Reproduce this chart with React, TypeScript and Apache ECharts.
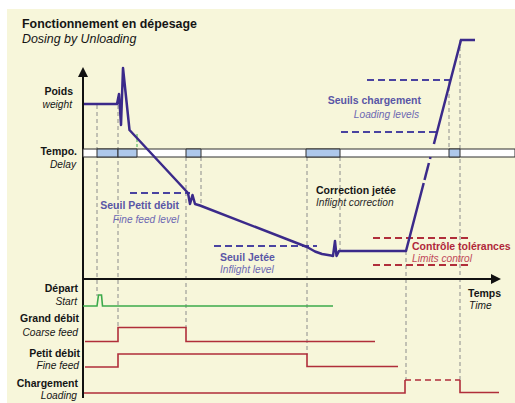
import React, { useEffect, useRef } from "react";
import * as echarts from "echarts";

// ---- chart-space data (time on x, level on y measured downward) ----
const weightCurve = [
  [84, 104], [117, 104], [119, 94], [121, 125], [123, 68], [129.5, 130],
  [188, 193], [190, 204], [192.5, 195], [195, 204], [200, 205.5],
  [307, 247], [315, 251.5], [322, 254], [331, 255.5], [333, 256],
  [335, 241], [336.5, 256], [339, 251], [406, 251], [423.7, 183],
];
const weightRiseDash1 = [[424.5, 180], [428.9, 163]];
const weightRiseDash2 = [[430, 159], [430.5, 157]];
const weightTop = [[433.9, 144], [461, 40], [475, 40]];

const tempoBand = [149, 157];
const tempoBar = [[83, 515]];
const tempoSegments = [[97, 118], [118, 137], [186, 201], [306, 340], [449, 460]];

// horizontal thresholds: [x1, x2, level]
const loadingLevels = [[367, 450, 80], [341, 436, 132]];
const fineFeedLevel = [[130, 190, 193]];
const inflightLevel = [[214, 317, 246]];
const toleranceLimits = [[373, 468, 238], [373, 468, 265]];

// vertical guides: [x, y1, y2]
const guides = [
  [97, 105, 296], [118, 105, 328], [186, 157, 328], [201, 157, 205],
  [307, 157, 355], [340, 157, 251], [406, 251, 380], [449, 80, 149], [460, 40, 380],
];
const greenGuide = [[137, 134, 149]];

const startSignal = [[83, 306], [97, 306], [98.5, 295], [101.5, 295], [102.5, 306], [333, 306]];
const coarseFeed = [[85, 341.5], [118, 341.5], [118, 327.5], [186, 327.5], [186, 341.5], [375, 341.5]];
const fineFeed = [[85, 367], [118, 367], [118, 354], [307, 354], [307, 366.5], [398, 366.5]];
const loadingLow = [[84, 393], [405, 393], [405, 380]];
const loadingHigh = [[405, 380], [460, 380]];
const loadingEnd = [[460, 380], [460, 392.5], [499, 392.5]];

const yAxisLine = [[83, 398], [83, 75]];
const timeAxisLine = [[83, 279], [492, 279]];
// arrow tips: [x, y, direction(0 up, 1 right)]
const arrowTips = [[83, 67, 0], [501, 279, 1]];

const FONT = '"Liberation Sans", Arial, sans-serif';
const PURPLE = "#3B2A8A";
const LEVEL = "#4A43A0";
const LBL_PURPLE = "#5A56A6";
const RED = "#B02E3A";
const GREEN = "#3CAA4B";
const GRAY = "#8C8C8C";

type Lbl = { t: string; x: number; y: number; a: string; b: boolean; c: string };
const labels: Lbl[] = [
  { t: "Fonctionnement en dépesage", x: 22, y: 24, a: "left", b: true, c: "#151515" },
  { t: "Dosing by Unloading", x: 22, y: 39, a: "left", b: false, c: "#151515" },
  { t: "Poids", x: 73, y: 91, a: "right", b: true, c: "#151515" },
  { t: "weight", x: 72, y: 104, a: "right", b: false, c: "#151515" },
  { t: "Tempo.", x: 77, y: 151, a: "right", b: true, c: "#151515" },
  { t: "Delay", x: 76, y: 164, a: "right", b: false, c: "#151515" },
  { t: "Départ", x: 78, y: 288, a: "right", b: true, c: "#151515" },
  { t: "Start", x: 77, y: 301, a: "right", b: false, c: "#151515" },
  { t: "Grand débit", x: 79, y: 318, a: "right", b: true, c: "#151515" },
  { t: "Coarse feed", x: 78, y: 332, a: "right", b: false, c: "#151515" },
  { t: "Petit débit", x: 80, y: 353, a: "right", b: true, c: "#151515" },
  { t: "Fine feed", x: 79, y: 365, a: "right", b: false, c: "#151515" },
  { t: "Chargement", x: 78, y: 383, a: "right", b: true, c: "#151515" },
  { t: "Loading", x: 77, y: 395, a: "right", b: false, c: "#151515" },
  { t: "Temps", x: 468, y: 293, a: "left", b: true, c: "#151515" },
  { t: "Time", x: 469, y: 305, a: "left", b: false, c: "#151515" },
  { t: "Seuils chargement", x: 421, y: 100, a: "right", b: true, c: LBL_PURPLE },
  { t: "Loading levels", x: 419, y: 114, a: "right", b: false, c: "#6C68B2" },
  { t: "Seuil Petit débit", x: 179, y: 205, a: "right", b: true, c: LBL_PURPLE },
  { t: "Fine feed level", x: 179, y: 219, a: "right", b: false, c: "#6C68B2" },
  { t: "Seuil Jetée", x: 220, y: 257, a: "left", b: true, c: LBL_PURPLE },
  { t: "Inflight level", x: 220, y: 269, a: "left", b: false, c: "#6C68B2" },
  { t: "Correction jetée", x: 316, y: 190, a: "left", b: true, c: "#151515" },
  { t: "Inflight correction", x: 316, y: 202, a: "left", b: false, c: "#2a2a2a" },
  { t: "Contrôle tolérances", x: 412, y: 246, a: "left", b: true, c: "#B0283A" },
  { t: "Limits control", x: 412, y: 258, a: "left", b: false, c: "#C04858" },
];

function poly(name: string, pts: number[][], color: string, width: number, dash: any, z: number, join = "round") {
  return {
    type: "line",
    name,
    data: pts,
    showSymbol: false,
    symbol: "none",
    silent: true,
    z,
    lineStyle: { color, width, type: dash || "solid", cap: "butt", join },
  };
}

// segments: rows [x1, y1, x2, y2]
function segs(name: string, rows: number[][], color: string, width: number, dash: number[] | null, z: number) {
  return {
    type: "custom",
    name,
    silent: true,
    z,
    data: rows,
    renderItem: (_p: any, api: any) => {
      const a = api.coord([api.value(0), api.value(1)]);
      const b = api.coord([api.value(2), api.value(3)]);
      return {
        type: "line",
        shape: { x1: a[0], y1: a[1], x2: b[0], y2: b[1] },
        style: { stroke: color, lineWidth: width, lineDash: dash || undefined, fill: null },
      };
    },
  };
}

const horiz = (rows: number[][]) => rows.map(([x1, x2, y]) => [x1, y, x2, y]);
const vert = (rows: number[][]) => rows.map(([x, y1, y2]) => [x, y1, x, y2]);

function tempoSeries(name: string, rows: number[][], fill: string, z: number) {
  return {
    type: "custom",
    name,
    silent: true,
    z,
    data: rows,
    renderItem: (_p: any, api: any) => {
      const a = api.coord([api.value(0), tempoBand[0]]);
      const b = api.coord([api.value(1), tempoBand[1]]);
      return {
        type: "rect",
        shape: { x: a[0], y: a[1], width: b[0] - a[0], height: b[1] - a[1] },
        style: { fill, stroke: "#2e2e2e", lineWidth: 1 },
      };
    },
  };
}

export default function App() {
  const ref = useRef<HTMLDivElement>(null);
  useEffect(() => {
    if (!ref.current) return;
    const chart = echarts.init(ref.current, null, { renderer: "svg" });
    const graphic: any[] = [
      { type: "rect", shape: { x: 7, y: 9, width: 515, height: 403 }, style: { fill: "#F7F6DA" }, z: -10, silent: true },
    ];
    labels.forEach((l) => {
      graphic.push({
        type: "text",
        z: 100,
        silent: true,
        style: {
          text: l.t,
          x: l.x,
          y: l.y,
          fill: l.c,
          font: `${l.b ? "bold" : "italic"} ${l.t === "Fonctionnement en dépesage" || l.t === "Dosing by Unloading" ? 12.4 : l.b ? 10.5 : 10.2}px ${FONT}`,
          textAlign: l.a,
          textVerticalAlign: "middle",
          align: l.a,
          verticalAlign: "middle",
        },
      });
    });

    const option: any = {
      animation: false,
      grid: { left: 0, right: 0, top: 0, bottom: 0 },
      xAxis: { type: "value", min: 0, max: 515, show: false },
      yAxis: { type: "value", min: 0, max: 403, inverse: true, show: false },
      graphic,
      series: [
        segs("guides", vert(guides), GRAY, 1, [4, 3], 3),
        segs("greenGuide", vert(greenGuide), GREEN, 1, [3, 2], 3),
        segs("loadingLevels", horiz(loadingLevels), LEVEL, 2, [7, 4], 4),
        segs("fineFeedLevel", horiz(fineFeedLevel), LEVEL, 2, [7, 4], 4),
        segs("inflightLevel", horiz(inflightLevel), LEVEL, 2, [7, 4], 4),
        segs("toleranceLimits", horiz(toleranceLimits), RED, 2, [7, 4], 4),
        poly("yAxis", yAxisLine, "#111", 2, null, 5, "miter"),
        poly("timeAxis", timeAxisLine, "#111", 2, null, 5, "miter"),
        {
          type: "custom",
          name: "arrows",
          silent: true,
          z: 5,
          data: arrowTips,
          renderItem: (_p: any, api: any) => {
            const t = api.coord([api.value(0), api.value(1)]);
            const up = api.value(2) === 0;
            const pts = up
              ? [[t[0], t[1]], [t[0] - 5, t[1] + 10], [t[0] + 5, t[1] + 10]]
              : [[t[0], t[1]], [t[0] - 10, t[1] - 5], [t[0] - 10, t[1] + 5]];
            return { type: "polygon", shape: { points: pts }, style: { fill: "#111" } };
          },
        },
        poly("startSignal", startSignal, GREEN, 1.6, null, 6, "miter"),
        poly("coarseFeed", coarseFeed, RED, 1.6, null, 6, "miter"),
        poly("fineFeed", fineFeed, RED, 1.6, null, 6, "miter"),
        poly("loadingLow", loadingLow, RED, 1.6, null, 6, "miter"),
        poly("loadingHigh", loadingHigh, RED, 1.6, [6, 4], 6, "miter"),
        poly("loadingEnd", loadingEnd, RED, 1.6, null, 6, "miter"),
        tempoSeries("tempoBar", tempoBar, "#FFFFFF", 7),
        tempoSeries("tempoSegments", tempoSegments, "#AEC8EA", 8),
        poly("weight", weightCurve, PURPLE, 2.5, null, 9),
        poly("weightDash1", weightRiseDash1, PURPLE, 2.5, null, 9),
        poly("weightDash2", weightRiseDash2, PURPLE, 2.5, null, 9),
        poly("weightTop", weightTop, PURPLE, 2.5, null, 9, "miter"),
      ],
    };
    chart.setOption(option);
    return () => chart.dispose();
  }, []);
  return (
    <div
      ref={ref}
      style={{ position: "fixed", left: 0, top: 0, width: 515, height: 403, background: "#FFFFFF" }}
    />
  );
}
